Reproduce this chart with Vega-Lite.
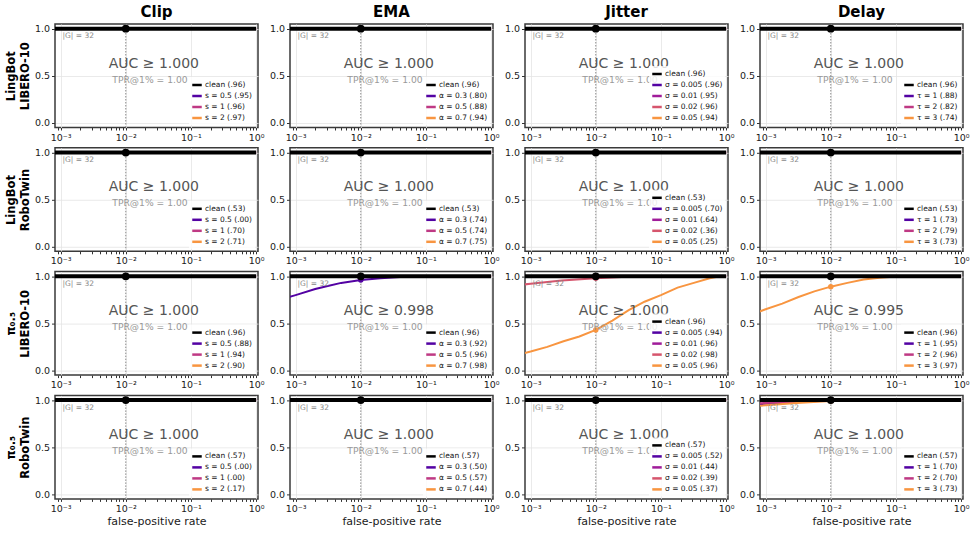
{
  "$schema": "https://vega.github.io/schema/vega-lite/v6.json",
  "background": "white",
  "padding": {"left": 4, "top": 3, "right": 6, "bottom": 6},
  "columns": 4,
  "spacing": {"row": 19.8, "column": 32},
  "bounds": "flush",
  "datasets": {
    "roc": [
      {"panel":"1-clip","curve":"clean (.96)","fpr":0.0005,"tpr":1},{"panel":"1-clip","curve":"clean (.96)","fpr":0.01,"tpr":1},{"panel":"1-clip","curve":"clean (.96)","fpr":1,"tpr":1},
      {"panel":"1-clip","curve":"s = 0.5 (.95)","fpr":0.0005,"tpr":1},{"panel":"1-clip","curve":"s = 0.5 (.95)","fpr":0.01,"tpr":1},{"panel":"1-clip","curve":"s = 0.5 (.95)","fpr":1,"tpr":1},
      {"panel":"1-clip","curve":"s = 1 (.96)","fpr":0.0005,"tpr":1},{"panel":"1-clip","curve":"s = 1 (.96)","fpr":0.01,"tpr":1},{"panel":"1-clip","curve":"s = 1 (.96)","fpr":1,"tpr":1},
      {"panel":"1-clip","curve":"s = 2 (.97)","fpr":0.0005,"tpr":1},{"panel":"1-clip","curve":"s = 2 (.97)","fpr":0.01,"tpr":1},{"panel":"1-clip","curve":"s = 2 (.97)","fpr":1,"tpr":1},

      {"panel":"1-ema","curve":"clean (.96)","fpr":0.0005,"tpr":1},{"panel":"1-ema","curve":"clean (.96)","fpr":0.01,"tpr":1},{"panel":"1-ema","curve":"clean (.96)","fpr":1,"tpr":1},
      {"panel":"1-ema","curve":"α = 0.3 (.80)","fpr":0.0005,"tpr":1},{"panel":"1-ema","curve":"α = 0.3 (.80)","fpr":0.01,"tpr":1},{"panel":"1-ema","curve":"α = 0.3 (.80)","fpr":1,"tpr":1},
      {"panel":"1-ema","curve":"α = 0.5 (.88)","fpr":0.0005,"tpr":1},{"panel":"1-ema","curve":"α = 0.5 (.88)","fpr":0.01,"tpr":1},{"panel":"1-ema","curve":"α = 0.5 (.88)","fpr":1,"tpr":1},
      {"panel":"1-ema","curve":"α = 0.7 (.94)","fpr":0.0005,"tpr":1},{"panel":"1-ema","curve":"α = 0.7 (.94)","fpr":0.01,"tpr":1},{"panel":"1-ema","curve":"α = 0.7 (.94)","fpr":1,"tpr":1},

      {"panel":"1-jitter","curve":"clean (.96)","fpr":0.0005,"tpr":1},{"panel":"1-jitter","curve":"clean (.96)","fpr":0.01,"tpr":1},{"panel":"1-jitter","curve":"clean (.96)","fpr":1,"tpr":1},
      {"panel":"1-jitter","curve":"σ = 0.005 (.96)","fpr":0.0005,"tpr":1},{"panel":"1-jitter","curve":"σ = 0.005 (.96)","fpr":0.01,"tpr":1},{"panel":"1-jitter","curve":"σ = 0.005 (.96)","fpr":1,"tpr":1},
      {"panel":"1-jitter","curve":"σ = 0.01 (.95)","fpr":0.0005,"tpr":1},{"panel":"1-jitter","curve":"σ = 0.01 (.95)","fpr":0.01,"tpr":1},{"panel":"1-jitter","curve":"σ = 0.01 (.95)","fpr":1,"tpr":1},
      {"panel":"1-jitter","curve":"σ = 0.02 (.96)","fpr":0.0005,"tpr":1},{"panel":"1-jitter","curve":"σ = 0.02 (.96)","fpr":0.01,"tpr":1},{"panel":"1-jitter","curve":"σ = 0.02 (.96)","fpr":1,"tpr":1},
      {"panel":"1-jitter","curve":"σ = 0.05 (.94)","fpr":0.0005,"tpr":1},{"panel":"1-jitter","curve":"σ = 0.05 (.94)","fpr":0.01,"tpr":1},{"panel":"1-jitter","curve":"σ = 0.05 (.94)","fpr":1,"tpr":1},

      {"panel":"1-delay","curve":"clean (.96)","fpr":0.0005,"tpr":1},{"panel":"1-delay","curve":"clean (.96)","fpr":0.01,"tpr":1},{"panel":"1-delay","curve":"clean (.96)","fpr":1,"tpr":1},
      {"panel":"1-delay","curve":"τ = 1 (.88)","fpr":0.0005,"tpr":1},{"panel":"1-delay","curve":"τ = 1 (.88)","fpr":0.01,"tpr":1},{"panel":"1-delay","curve":"τ = 1 (.88)","fpr":1,"tpr":1},
      {"panel":"1-delay","curve":"τ = 2 (.82)","fpr":0.0005,"tpr":1},{"panel":"1-delay","curve":"τ = 2 (.82)","fpr":0.01,"tpr":1},{"panel":"1-delay","curve":"τ = 2 (.82)","fpr":1,"tpr":1},
      {"panel":"1-delay","curve":"τ = 3 (.74)","fpr":0.0005,"tpr":1},{"panel":"1-delay","curve":"τ = 3 (.74)","fpr":0.01,"tpr":1},{"panel":"1-delay","curve":"τ = 3 (.74)","fpr":1,"tpr":1},

      {"panel":"2-clip","curve":"clean (.53)","fpr":0.0005,"tpr":1},{"panel":"2-clip","curve":"clean (.53)","fpr":0.01,"tpr":1},{"panel":"2-clip","curve":"clean (.53)","fpr":1,"tpr":1},
      {"panel":"2-clip","curve":"s = 0.5 (.00)","fpr":0.0005,"tpr":1},{"panel":"2-clip","curve":"s = 0.5 (.00)","fpr":0.01,"tpr":1},{"panel":"2-clip","curve":"s = 0.5 (.00)","fpr":1,"tpr":1},
      {"panel":"2-clip","curve":"s = 1 (.70)","fpr":0.0005,"tpr":1},{"panel":"2-clip","curve":"s = 1 (.70)","fpr":0.01,"tpr":1},{"panel":"2-clip","curve":"s = 1 (.70)","fpr":1,"tpr":1},
      {"panel":"2-clip","curve":"s = 2 (.71)","fpr":0.0005,"tpr":1},{"panel":"2-clip","curve":"s = 2 (.71)","fpr":0.01,"tpr":1},{"panel":"2-clip","curve":"s = 2 (.71)","fpr":1,"tpr":1},

      {"panel":"2-ema","curve":"clean (.53)","fpr":0.0005,"tpr":1},{"panel":"2-ema","curve":"clean (.53)","fpr":0.01,"tpr":1},{"panel":"2-ema","curve":"clean (.53)","fpr":1,"tpr":1},
      {"panel":"2-ema","curve":"α = 0.3 (.74)","fpr":0.0005,"tpr":1},{"panel":"2-ema","curve":"α = 0.3 (.74)","fpr":0.01,"tpr":1},{"panel":"2-ema","curve":"α = 0.3 (.74)","fpr":1,"tpr":1},
      {"panel":"2-ema","curve":"α = 0.5 (.74)","fpr":0.0005,"tpr":1},{"panel":"2-ema","curve":"α = 0.5 (.74)","fpr":0.01,"tpr":1},{"panel":"2-ema","curve":"α = 0.5 (.74)","fpr":1,"tpr":1},
      {"panel":"2-ema","curve":"α = 0.7 (.75)","fpr":0.0005,"tpr":1},{"panel":"2-ema","curve":"α = 0.7 (.75)","fpr":0.01,"tpr":1},{"panel":"2-ema","curve":"α = 0.7 (.75)","fpr":1,"tpr":1},

      {"panel":"2-jitter","curve":"clean (.53)","fpr":0.0005,"tpr":1},{"panel":"2-jitter","curve":"clean (.53)","fpr":0.01,"tpr":1},{"panel":"2-jitter","curve":"clean (.53)","fpr":1,"tpr":1},
      {"panel":"2-jitter","curve":"σ = 0.005 (.70)","fpr":0.0005,"tpr":1},{"panel":"2-jitter","curve":"σ = 0.005 (.70)","fpr":0.01,"tpr":1},{"panel":"2-jitter","curve":"σ = 0.005 (.70)","fpr":1,"tpr":1},
      {"panel":"2-jitter","curve":"σ = 0.01 (.64)","fpr":0.0005,"tpr":1},{"panel":"2-jitter","curve":"σ = 0.01 (.64)","fpr":0.01,"tpr":1},{"panel":"2-jitter","curve":"σ = 0.01 (.64)","fpr":1,"tpr":1},
      {"panel":"2-jitter","curve":"σ = 0.02 (.36)","fpr":0.0005,"tpr":1},{"panel":"2-jitter","curve":"σ = 0.02 (.36)","fpr":0.01,"tpr":1},{"panel":"2-jitter","curve":"σ = 0.02 (.36)","fpr":1,"tpr":1},
      {"panel":"2-jitter","curve":"σ = 0.05 (.25)","fpr":0.0005,"tpr":1},{"panel":"2-jitter","curve":"σ = 0.05 (.25)","fpr":0.01,"tpr":1},{"panel":"2-jitter","curve":"σ = 0.05 (.25)","fpr":1,"tpr":1},

      {"panel":"2-delay","curve":"clean (.53)","fpr":0.0005,"tpr":1},{"panel":"2-delay","curve":"clean (.53)","fpr":0.01,"tpr":1},{"panel":"2-delay","curve":"clean (.53)","fpr":1,"tpr":1},
      {"panel":"2-delay","curve":"τ = 1 (.73)","fpr":0.0005,"tpr":1},{"panel":"2-delay","curve":"τ = 1 (.73)","fpr":0.01,"tpr":1},{"panel":"2-delay","curve":"τ = 1 (.73)","fpr":1,"tpr":1},
      {"panel":"2-delay","curve":"τ = 2 (.79)","fpr":0.0005,"tpr":1},{"panel":"2-delay","curve":"τ = 2 (.79)","fpr":0.01,"tpr":1},{"panel":"2-delay","curve":"τ = 2 (.79)","fpr":1,"tpr":1},
      {"panel":"2-delay","curve":"τ = 3 (.73)","fpr":0.0005,"tpr":1},{"panel":"2-delay","curve":"τ = 3 (.73)","fpr":0.01,"tpr":1},{"panel":"2-delay","curve":"τ = 3 (.73)","fpr":1,"tpr":1},

      {"panel":"3-clip","curve":"clean (.96)","fpr":0.0005,"tpr":1},{"panel":"3-clip","curve":"clean (.96)","fpr":0.01,"tpr":1},{"panel":"3-clip","curve":"clean (.96)","fpr":1,"tpr":1},
      {"panel":"3-clip","curve":"s = 0.5 (.88)","fpr":0.0005,"tpr":1},{"panel":"3-clip","curve":"s = 0.5 (.88)","fpr":0.01,"tpr":1},{"panel":"3-clip","curve":"s = 0.5 (.88)","fpr":1,"tpr":1},
      {"panel":"3-clip","curve":"s = 1 (.94)","fpr":0.0005,"tpr":1},{"panel":"3-clip","curve":"s = 1 (.94)","fpr":0.01,"tpr":1},{"panel":"3-clip","curve":"s = 1 (.94)","fpr":1,"tpr":1},
      {"panel":"3-clip","curve":"s = 2 (.90)","fpr":0.0005,"tpr":1},{"panel":"3-clip","curve":"s = 2 (.90)","fpr":0.01,"tpr":1},{"panel":"3-clip","curve":"s = 2 (.90)","fpr":1,"tpr":1},

      {"panel":"3-ema","curve":"clean (.96)","fpr":0.0005,"tpr":1},{"panel":"3-ema","curve":"clean (.96)","fpr":0.01,"tpr":1},{"panel":"3-ema","curve":"clean (.96)","fpr":1,"tpr":1},
      {"panel":"3-ema","curve":"α = 0.3 (.92)","fpr":0.0005,"tpr":0.74},{"panel":"3-ema","curve":"α = 0.3 (.92)","fpr":0.001,"tpr":0.8},{"panel":"3-ema","curve":"α = 0.3 (.92)","fpr":0.002,"tpr":0.865},{"panel":"3-ema","curve":"α = 0.3 (.92)","fpr":0.003,"tpr":0.895},{"panel":"3-ema","curve":"α = 0.3 (.92)","fpr":0.005,"tpr":0.93},{"panel":"3-ema","curve":"α = 0.3 (.92)","fpr":0.01,"tpr":0.96},{"panel":"3-ema","curve":"α = 0.3 (.92)","fpr":0.02,"tpr":0.98},{"panel":"3-ema","curve":"α = 0.3 (.92)","fpr":0.04,"tpr":0.993},{"panel":"3-ema","curve":"α = 0.3 (.92)","fpr":0.07,"tpr":1},{"panel":"3-ema","curve":"α = 0.3 (.92)","fpr":1,"tpr":1},
      {"panel":"3-ema","curve":"α = 0.5 (.96)","fpr":0.0005,"tpr":1},{"panel":"3-ema","curve":"α = 0.5 (.96)","fpr":0.01,"tpr":1},{"panel":"3-ema","curve":"α = 0.5 (.96)","fpr":1,"tpr":1},
      {"panel":"3-ema","curve":"α = 0.7 (.98)","fpr":0.0005,"tpr":1},{"panel":"3-ema","curve":"α = 0.7 (.98)","fpr":0.01,"tpr":1},{"panel":"3-ema","curve":"α = 0.7 (.98)","fpr":1,"tpr":1},

      {"panel":"3-jitter","curve":"clean (.96)","fpr":0.0005,"tpr":1},{"panel":"3-jitter","curve":"clean (.96)","fpr":0.01,"tpr":1},{"panel":"3-jitter","curve":"clean (.96)","fpr":1,"tpr":1},
      {"panel":"3-jitter","curve":"σ = 0.005 (.94)","fpr":0.0005,"tpr":1},{"panel":"3-jitter","curve":"σ = 0.005 (.94)","fpr":0.01,"tpr":1},{"panel":"3-jitter","curve":"σ = 0.005 (.94)","fpr":1,"tpr":1},
      {"panel":"3-jitter","curve":"σ = 0.01 (.96)","fpr":0.0005,"tpr":1},{"panel":"3-jitter","curve":"σ = 0.01 (.96)","fpr":0.01,"tpr":1},{"panel":"3-jitter","curve":"σ = 0.01 (.96)","fpr":1,"tpr":1},
      {"panel":"3-jitter","curve":"σ = 0.02 (.98)","fpr":0.0005,"tpr":0.9},{"panel":"3-jitter","curve":"σ = 0.02 (.98)","fpr":0.001,"tpr":0.92},{"panel":"3-jitter","curve":"σ = 0.02 (.98)","fpr":0.003,"tpr":0.955},{"panel":"3-jitter","curve":"σ = 0.02 (.98)","fpr":0.01,"tpr":0.98},{"panel":"3-jitter","curve":"σ = 0.02 (.98)","fpr":0.03,"tpr":0.995},{"panel":"3-jitter","curve":"σ = 0.02 (.98)","fpr":0.06,"tpr":1},{"panel":"3-jitter","curve":"σ = 0.02 (.98)","fpr":1,"tpr":1},
      {"panel":"3-jitter","curve":"σ = 0.05 (.96)","fpr":0.0005,"tpr":0.15},{"panel":"3-jitter","curve":"σ = 0.05 (.96)","fpr":0.001,"tpr":0.2},{"panel":"3-jitter","curve":"σ = 0.05 (.96)","fpr":0.0018,"tpr":0.25},{"panel":"3-jitter","curve":"σ = 0.05 (.96)","fpr":0.0032,"tpr":0.31},{"panel":"3-jitter","curve":"σ = 0.05 (.96)","fpr":0.0056,"tpr":0.36},{"panel":"3-jitter","curve":"σ = 0.05 (.96)","fpr":0.01,"tpr":0.43},{"panel":"3-jitter","curve":"σ = 0.05 (.96)","fpr":0.018,"tpr":0.53},{"panel":"3-jitter","curve":"σ = 0.05 (.96)","fpr":0.032,"tpr":0.64},{"panel":"3-jitter","curve":"σ = 0.05 (.96)","fpr":0.056,"tpr":0.73},{"panel":"3-jitter","curve":"σ = 0.05 (.96)","fpr":0.1,"tpr":0.8},{"panel":"3-jitter","curve":"σ = 0.05 (.96)","fpr":0.18,"tpr":0.88},{"panel":"3-jitter","curve":"σ = 0.05 (.96)","fpr":0.32,"tpr":0.93},{"panel":"3-jitter","curve":"σ = 0.05 (.96)","fpr":0.56,"tpr":0.98},{"panel":"3-jitter","curve":"σ = 0.05 (.96)","fpr":0.8,"tpr":1},{"panel":"3-jitter","curve":"σ = 0.05 (.96)","fpr":1,"tpr":1},

      {"panel":"3-delay","curve":"clean (.96)","fpr":0.0005,"tpr":1},{"panel":"3-delay","curve":"clean (.96)","fpr":0.01,"tpr":1},{"panel":"3-delay","curve":"clean (.96)","fpr":1,"tpr":1},
      {"panel":"3-delay","curve":"τ = 1 (.95)","fpr":0.0005,"tpr":1},{"panel":"3-delay","curve":"τ = 1 (.95)","fpr":0.01,"tpr":1},{"panel":"3-delay","curve":"τ = 1 (.95)","fpr":1,"tpr":1},
      {"panel":"3-delay","curve":"τ = 2 (.96)","fpr":0.0005,"tpr":1},{"panel":"3-delay","curve":"τ = 2 (.96)","fpr":0.01,"tpr":1},{"panel":"3-delay","curve":"τ = 2 (.96)","fpr":1,"tpr":1},
      {"panel":"3-delay","curve":"τ = 3 (.97)","fpr":0.0005,"tpr":0.57},{"panel":"3-delay","curve":"τ = 3 (.97)","fpr":0.001,"tpr":0.65},{"panel":"3-delay","curve":"τ = 3 (.97)","fpr":0.0018,"tpr":0.71},{"panel":"3-delay","curve":"τ = 3 (.97)","fpr":0.0032,"tpr":0.78},{"panel":"3-delay","curve":"τ = 3 (.97)","fpr":0.0056,"tpr":0.84},{"panel":"3-delay","curve":"τ = 3 (.97)","fpr":0.01,"tpr":0.89},{"panel":"3-delay","curve":"τ = 3 (.97)","fpr":0.018,"tpr":0.93},{"panel":"3-delay","curve":"τ = 3 (.97)","fpr":0.032,"tpr":0.965},{"panel":"3-delay","curve":"τ = 3 (.97)","fpr":0.056,"tpr":0.985},{"panel":"3-delay","curve":"τ = 3 (.97)","fpr":0.1,"tpr":0.997},{"panel":"3-delay","curve":"τ = 3 (.97)","fpr":0.16,"tpr":1},{"panel":"3-delay","curve":"τ = 3 (.97)","fpr":1,"tpr":1},

      {"panel":"4-clip","curve":"clean (.57)","fpr":0.0005,"tpr":1},{"panel":"4-clip","curve":"clean (.57)","fpr":0.01,"tpr":1},{"panel":"4-clip","curve":"clean (.57)","fpr":1,"tpr":1},
      {"panel":"4-clip","curve":"s = 0.5 (.00)","fpr":0.0005,"tpr":1},{"panel":"4-clip","curve":"s = 0.5 (.00)","fpr":0.01,"tpr":1},{"panel":"4-clip","curve":"s = 0.5 (.00)","fpr":1,"tpr":1},
      {"panel":"4-clip","curve":"s = 1 (.00)","fpr":0.0005,"tpr":1},{"panel":"4-clip","curve":"s = 1 (.00)","fpr":0.01,"tpr":1},{"panel":"4-clip","curve":"s = 1 (.00)","fpr":1,"tpr":1},
      {"panel":"4-clip","curve":"s = 2 (.17)","fpr":0.0005,"tpr":1},{"panel":"4-clip","curve":"s = 2 (.17)","fpr":0.01,"tpr":1},{"panel":"4-clip","curve":"s = 2 (.17)","fpr":1,"tpr":1},

      {"panel":"4-ema","curve":"clean (.57)","fpr":0.0005,"tpr":1},{"panel":"4-ema","curve":"clean (.57)","fpr":0.01,"tpr":1},{"panel":"4-ema","curve":"clean (.57)","fpr":1,"tpr":1},
      {"panel":"4-ema","curve":"α = 0.3 (.50)","fpr":0.0005,"tpr":1},{"panel":"4-ema","curve":"α = 0.3 (.50)","fpr":0.01,"tpr":1},{"panel":"4-ema","curve":"α = 0.3 (.50)","fpr":1,"tpr":1},
      {"panel":"4-ema","curve":"α = 0.5 (.57)","fpr":0.0005,"tpr":1},{"panel":"4-ema","curve":"α = 0.5 (.57)","fpr":0.01,"tpr":1},{"panel":"4-ema","curve":"α = 0.5 (.57)","fpr":1,"tpr":1},
      {"panel":"4-ema","curve":"α = 0.7 (.44)","fpr":0.0005,"tpr":1},{"panel":"4-ema","curve":"α = 0.7 (.44)","fpr":0.01,"tpr":1},{"panel":"4-ema","curve":"α = 0.7 (.44)","fpr":1,"tpr":1},

      {"panel":"4-jitter","curve":"clean (.57)","fpr":0.0005,"tpr":1},{"panel":"4-jitter","curve":"clean (.57)","fpr":0.01,"tpr":1},{"panel":"4-jitter","curve":"clean (.57)","fpr":1,"tpr":1},
      {"panel":"4-jitter","curve":"σ = 0.005 (.52)","fpr":0.0005,"tpr":1},{"panel":"4-jitter","curve":"σ = 0.005 (.52)","fpr":0.01,"tpr":1},{"panel":"4-jitter","curve":"σ = 0.005 (.52)","fpr":1,"tpr":1},
      {"panel":"4-jitter","curve":"σ = 0.01 (.44)","fpr":0.0005,"tpr":1},{"panel":"4-jitter","curve":"σ = 0.01 (.44)","fpr":0.01,"tpr":1},{"panel":"4-jitter","curve":"σ = 0.01 (.44)","fpr":1,"tpr":1},
      {"panel":"4-jitter","curve":"σ = 0.02 (.39)","fpr":0.0005,"tpr":1},{"panel":"4-jitter","curve":"σ = 0.02 (.39)","fpr":0.01,"tpr":1},{"panel":"4-jitter","curve":"σ = 0.02 (.39)","fpr":1,"tpr":1},
      {"panel":"4-jitter","curve":"σ = 0.05 (.37)","fpr":0.0005,"tpr":1},{"panel":"4-jitter","curve":"σ = 0.05 (.37)","fpr":0.01,"tpr":1},{"panel":"4-jitter","curve":"σ = 0.05 (.37)","fpr":1,"tpr":1},

      {"panel":"4-delay","curve":"clean (.57)","fpr":0.0005,"tpr":1},{"panel":"4-delay","curve":"clean (.57)","fpr":0.01,"tpr":1},{"panel":"4-delay","curve":"clean (.57)","fpr":1,"tpr":1},
      {"panel":"4-delay","curve":"τ = 1 (.70)","fpr":0.0005,"tpr":0.95},{"panel":"4-delay","curve":"τ = 1 (.70)","fpr":0.001,"tpr":0.96},{"panel":"4-delay","curve":"τ = 1 (.70)","fpr":0.003,"tpr":0.98},{"panel":"4-delay","curve":"τ = 1 (.70)","fpr":0.01,"tpr":0.995},{"panel":"4-delay","curve":"τ = 1 (.70)","fpr":0.02,"tpr":1},{"panel":"4-delay","curve":"τ = 1 (.70)","fpr":1,"tpr":1},
      {"panel":"4-delay","curve":"τ = 2 (.70)","fpr":0.0005,"tpr":0.96},{"panel":"4-delay","curve":"τ = 2 (.70)","fpr":0.001,"tpr":0.97},{"panel":"4-delay","curve":"τ = 2 (.70)","fpr":0.01,"tpr":0.998},{"panel":"4-delay","curve":"τ = 2 (.70)","fpr":0.02,"tpr":1},{"panel":"4-delay","curve":"τ = 2 (.70)","fpr":1,"tpr":1},
      {"panel":"4-delay","curve":"τ = 3 (.73)","fpr":0.0005,"tpr":0.93},{"panel":"4-delay","curve":"τ = 3 (.73)","fpr":0.001,"tpr":0.945},{"panel":"4-delay","curve":"τ = 3 (.73)","fpr":0.003,"tpr":0.97},{"panel":"4-delay","curve":"τ = 3 (.73)","fpr":0.01,"tpr":0.99},{"panel":"4-delay","curve":"τ = 3 (.73)","fpr":0.02,"tpr":1},{"panel":"4-delay","curve":"τ = 3 (.73)","fpr":1,"tpr":1}
    ]
  },
  "concat": [
    {"width":203,"height":103.5,"title":"Clip","layer":[
      {"data":{"values":[{}]},"mark":{"type":"rule","color":"#8c8c8c","strokeWidth":1,"strokeDash":[1.5,1.5]},"encoding":{"x":{"datum":0.01,"type":"quantitative"}}},
      {"data":{"name":"roc"},"transform":[{"filter":"datum.panel == '1-clip'"}],
       "encoding":{
        "x":{"field":"fpr","type":"quantitative","scale":{"type":"log","domain":[0.00082,1.07],"nice":false},"axis":{"title":null,"values":[0.0009,0.001,0.002,0.003,0.004,0.005,0.006,0.007,0.008,0.009,0.01,0.02,0.03,0.04,0.05,0.06,0.07,0.08,0.09,0.1,0.2,0.3,0.4,0.5,0.6,0.7,0.8,0.9,1],"labelExpr":"datum.value == 0.001 ? '10⁻³' : datum.value == 0.01 ? '10⁻²' : datum.value == 0.1 ? '10⁻¹' : datum.value == 1 ? '10⁰' : ''","labelOverlap":false,"gridOpacity":{"condition":{"test":"datum.value == 0.001 || datum.value == 0.01 || datum.value == 0.1 || datum.value == 1","value":1},"value":0}}},
        "y":{"field":"tpr","type":"quantitative","scale":{"domain":[-0.05,1.05],"nice":false,"zero":false},"axis":{"title":["LingBot","LIBERO-10"],"values":[0,0.5,1],"format":".1f"}},
        "color":{"field":"curve","type":"nominal","title":null,"scale":{"domain":["clean (.96)","s = 0.5 (.95)","s = 1 (.96)","s = 2 (.97)"],"range":["#000000","#5302a3","#bf3984","#f89540"]}}},
       "layer":[
        {"transform":[{"filter":"indexof(datum.curve, 'clean') != 0"}],"mark":{"type":"line","strokeWidth":2,"clip":true}},
        {"transform":[{"filter":"indexof(datum.curve, 'clean') == 0"}],"mark":{"type":"line","strokeWidth":4,"clip":true}},
        {"transform":[{"filter":"indexof(datum.curve, 'clean') != 0 && datum.fpr == 0.01"}],"mark":{"type":"point","filled":true,"size":30,"opacity":1}},
        {"transform":[{"filter":"indexof(datum.curve, 'clean') == 0 && datum.fpr == 0.01"}],"mark":{"type":"point","filled":true,"size":60,"opacity":1}}
       ]},
      {"data":{"values":[{}]},"layer":[
        {"mark":{"type":"text","fontSize":7.5,"color":"#888888","align":"left","baseline":"middle","text":"|G| = 32"},"encoding":{"x":{"datum":0.00107,"type":"quantitative"},"y":{"datum":0.92,"type":"quantitative"}}},
        {"mark":{"type":"text","fontSize":14,"color":"#555555","baseline":"middle","text":"AUC ≥ 1.000"},"encoding":{"x":{"datum":0.027,"type":"quantitative"},"y":{"datum":0.63,"type":"quantitative"}}},
        {"mark":{"type":"text","fontSize":9.2,"color":"#999999","baseline":"middle","text":"TPR@1% = 1.00"},"encoding":{"x":{"datum":0.0235,"type":"quantitative"},"y":{"datum":0.46,"type":"quantitative"}}}
      ]}
    ]},
    {"width":203,"height":103.5,"title":"EMA","layer":[
      {"data":{"values":[{}]},"mark":{"type":"rule","color":"#8c8c8c","strokeWidth":1,"strokeDash":[1.5,1.5]},"encoding":{"x":{"datum":0.01,"type":"quantitative"}}},
      {"data":{"name":"roc"},"transform":[{"filter":"datum.panel == '1-ema'"}],
       "encoding":{
        "x":{"field":"fpr","type":"quantitative","scale":{"type":"log","domain":[0.00082,1.07],"nice":false},"axis":{"title":null,"values":[0.0009,0.001,0.002,0.003,0.004,0.005,0.006,0.007,0.008,0.009,0.01,0.02,0.03,0.04,0.05,0.06,0.07,0.08,0.09,0.1,0.2,0.3,0.4,0.5,0.6,0.7,0.8,0.9,1],"labelExpr":"datum.value == 0.001 ? '10⁻³' : datum.value == 0.01 ? '10⁻²' : datum.value == 0.1 ? '10⁻¹' : datum.value == 1 ? '10⁰' : ''","labelOverlap":false,"gridOpacity":{"condition":{"test":"datum.value == 0.001 || datum.value == 0.01 || datum.value == 0.1 || datum.value == 1","value":1},"value":0}}},
        "y":{"field":"tpr","type":"quantitative","scale":{"domain":[-0.05,1.05],"nice":false,"zero":false},"axis":{"title":null,"values":[0,0.5,1],"format":".1f"}},
        "color":{"field":"curve","type":"nominal","title":null,"scale":{"domain":["clean (.96)","α = 0.3 (.80)","α = 0.5 (.88)","α = 0.7 (.94)"],"range":["#000000","#5302a3","#bf3984","#f89540"]}}},
       "layer":[
        {"transform":[{"filter":"indexof(datum.curve, 'clean') != 0"}],"mark":{"type":"line","strokeWidth":2,"clip":true}},
        {"transform":[{"filter":"indexof(datum.curve, 'clean') == 0"}],"mark":{"type":"line","strokeWidth":4,"clip":true}},
        {"transform":[{"filter":"indexof(datum.curve, 'clean') != 0 && datum.fpr == 0.01"}],"mark":{"type":"point","filled":true,"size":30,"opacity":1}},
        {"transform":[{"filter":"indexof(datum.curve, 'clean') == 0 && datum.fpr == 0.01"}],"mark":{"type":"point","filled":true,"size":60,"opacity":1}}
       ]},
      {"data":{"values":[{}]},"layer":[
        {"mark":{"type":"text","fontSize":7.5,"color":"#888888","align":"left","baseline":"middle","text":"|G| = 32"},"encoding":{"x":{"datum":0.00107,"type":"quantitative"},"y":{"datum":0.92,"type":"quantitative"}}},
        {"mark":{"type":"text","fontSize":14,"color":"#555555","baseline":"middle","text":"AUC ≥ 1.000"},"encoding":{"x":{"datum":0.027,"type":"quantitative"},"y":{"datum":0.63,"type":"quantitative"}}},
        {"mark":{"type":"text","fontSize":9.2,"color":"#999999","baseline":"middle","text":"TPR@1% = 1.00"},"encoding":{"x":{"datum":0.0235,"type":"quantitative"},"y":{"datum":0.46,"type":"quantitative"}}}
      ]}
    ]},
    {"width":203,"height":103.5,"title":"Jitter","layer":[
      {"data":{"values":[{}]},"mark":{"type":"rule","color":"#8c8c8c","strokeWidth":1,"strokeDash":[1.5,1.5]},"encoding":{"x":{"datum":0.01,"type":"quantitative"}}},
      {"data":{"name":"roc"},"transform":[{"filter":"datum.panel == '1-jitter'"}],
       "encoding":{
        "x":{"field":"fpr","type":"quantitative","scale":{"type":"log","domain":[0.00082,1.07],"nice":false},"axis":{"title":null,"values":[0.0009,0.001,0.002,0.003,0.004,0.005,0.006,0.007,0.008,0.009,0.01,0.02,0.03,0.04,0.05,0.06,0.07,0.08,0.09,0.1,0.2,0.3,0.4,0.5,0.6,0.7,0.8,0.9,1],"labelExpr":"datum.value == 0.001 ? '10⁻³' : datum.value == 0.01 ? '10⁻²' : datum.value == 0.1 ? '10⁻¹' : datum.value == 1 ? '10⁰' : ''","labelOverlap":false,"gridOpacity":{"condition":{"test":"datum.value == 0.001 || datum.value == 0.01 || datum.value == 0.1 || datum.value == 1","value":1},"value":0}}},
        "y":{"field":"tpr","type":"quantitative","scale":{"domain":[-0.05,1.05],"nice":false,"zero":false},"axis":{"title":null,"values":[0,0.5,1],"format":".1f"}},
        "color":{"field":"curve","type":"nominal","title":null,"scale":{"domain":["clean (.96)","σ = 0.005 (.96)","σ = 0.01 (.95)","σ = 0.02 (.96)","σ = 0.05 (.94)"],"range":["#000000","#5302a3","#a01c9a","#d6556d","#f89540"]}}},
       "layer":[
        {"transform":[{"filter":"indexof(datum.curve, 'clean') != 0"}],"mark":{"type":"line","strokeWidth":2,"clip":true}},
        {"transform":[{"filter":"indexof(datum.curve, 'clean') == 0"}],"mark":{"type":"line","strokeWidth":4,"clip":true}},
        {"transform":[{"filter":"indexof(datum.curve, 'clean') != 0 && datum.fpr == 0.01"}],"mark":{"type":"point","filled":true,"size":30,"opacity":1}},
        {"transform":[{"filter":"indexof(datum.curve, 'clean') == 0 && datum.fpr == 0.01"}],"mark":{"type":"point","filled":true,"size":60,"opacity":1}}
       ]},
      {"data":{"values":[{}]},"layer":[
        {"mark":{"type":"text","fontSize":7.5,"color":"#888888","align":"left","baseline":"middle","text":"|G| = 32"},"encoding":{"x":{"datum":0.00107,"type":"quantitative"},"y":{"datum":0.92,"type":"quantitative"}}},
        {"mark":{"type":"text","fontSize":14,"color":"#555555","baseline":"middle","text":"AUC ≥ 1.000"},"encoding":{"x":{"datum":0.027,"type":"quantitative"},"y":{"datum":0.63,"type":"quantitative"}}},
        {"mark":{"type":"text","fontSize":9.2,"color":"#999999","baseline":"middle","text":"TPR@1% = 1.00"},"encoding":{"x":{"datum":0.0235,"type":"quantitative"},"y":{"datum":0.46,"type":"quantitative"}}}
      ]}
    ]},
    {"width":203,"height":103.5,"title":"Delay","layer":[
      {"data":{"values":[{}]},"mark":{"type":"rule","color":"#8c8c8c","strokeWidth":1,"strokeDash":[1.5,1.5]},"encoding":{"x":{"datum":0.01,"type":"quantitative"}}},
      {"data":{"name":"roc"},"transform":[{"filter":"datum.panel == '1-delay'"}],
       "encoding":{
        "x":{"field":"fpr","type":"quantitative","scale":{"type":"log","domain":[0.00082,1.07],"nice":false},"axis":{"title":null,"values":[0.0009,0.001,0.002,0.003,0.004,0.005,0.006,0.007,0.008,0.009,0.01,0.02,0.03,0.04,0.05,0.06,0.07,0.08,0.09,0.1,0.2,0.3,0.4,0.5,0.6,0.7,0.8,0.9,1],"labelExpr":"datum.value == 0.001 ? '10⁻³' : datum.value == 0.01 ? '10⁻²' : datum.value == 0.1 ? '10⁻¹' : datum.value == 1 ? '10⁰' : ''","labelOverlap":false,"gridOpacity":{"condition":{"test":"datum.value == 0.001 || datum.value == 0.01 || datum.value == 0.1 || datum.value == 1","value":1},"value":0}}},
        "y":{"field":"tpr","type":"quantitative","scale":{"domain":[-0.05,1.05],"nice":false,"zero":false},"axis":{"title":null,"values":[0,0.5,1],"format":".1f"}},
        "color":{"field":"curve","type":"nominal","title":null,"scale":{"domain":["clean (.96)","τ = 1 (.88)","τ = 2 (.82)","τ = 3 (.74)"],"range":["#000000","#5302a3","#bf3984","#f89540"]}}},
       "layer":[
        {"transform":[{"filter":"indexof(datum.curve, 'clean') != 0"}],"mark":{"type":"line","strokeWidth":2,"clip":true}},
        {"transform":[{"filter":"indexof(datum.curve, 'clean') == 0"}],"mark":{"type":"line","strokeWidth":4,"clip":true}},
        {"transform":[{"filter":"indexof(datum.curve, 'clean') != 0 && datum.fpr == 0.01"}],"mark":{"type":"point","filled":true,"size":30,"opacity":1}},
        {"transform":[{"filter":"indexof(datum.curve, 'clean') == 0 && datum.fpr == 0.01"}],"mark":{"type":"point","filled":true,"size":60,"opacity":1}}
       ]},
      {"data":{"values":[{}]},"layer":[
        {"mark":{"type":"text","fontSize":7.5,"color":"#888888","align":"left","baseline":"middle","text":"|G| = 32"},"encoding":{"x":{"datum":0.00107,"type":"quantitative"},"y":{"datum":0.92,"type":"quantitative"}}},
        {"mark":{"type":"text","fontSize":14,"color":"#555555","baseline":"middle","text":"AUC ≥ 1.000"},"encoding":{"x":{"datum":0.027,"type":"quantitative"},"y":{"datum":0.63,"type":"quantitative"}}},
        {"mark":{"type":"text","fontSize":9.2,"color":"#999999","baseline":"middle","text":"TPR@1% = 1.00"},"encoding":{"x":{"datum":0.0235,"type":"quantitative"},"y":{"datum":0.46,"type":"quantitative"}}}
      ]}
    ]},

    {"width":203,"height":103.5,"layer":[
      {"data":{"values":[{}]},"mark":{"type":"rule","color":"#8c8c8c","strokeWidth":1,"strokeDash":[1.5,1.5]},"encoding":{"x":{"datum":0.01,"type":"quantitative"}}},
      {"data":{"name":"roc"},"transform":[{"filter":"datum.panel == '2-clip'"}],
       "encoding":{
        "x":{"field":"fpr","type":"quantitative","scale":{"type":"log","domain":[0.00082,1.07],"nice":false},"axis":{"title":null,"values":[0.0009,0.001,0.002,0.003,0.004,0.005,0.006,0.007,0.008,0.009,0.01,0.02,0.03,0.04,0.05,0.06,0.07,0.08,0.09,0.1,0.2,0.3,0.4,0.5,0.6,0.7,0.8,0.9,1],"labelExpr":"datum.value == 0.001 ? '10⁻³' : datum.value == 0.01 ? '10⁻²' : datum.value == 0.1 ? '10⁻¹' : datum.value == 1 ? '10⁰' : ''","labelOverlap":false,"gridOpacity":{"condition":{"test":"datum.value == 0.001 || datum.value == 0.01 || datum.value == 0.1 || datum.value == 1","value":1},"value":0}}},
        "y":{"field":"tpr","type":"quantitative","scale":{"domain":[-0.05,1.05],"nice":false,"zero":false},"axis":{"title":["LingBot","RoboTwin"],"values":[0,0.5,1],"format":".1f"}},
        "color":{"field":"curve","type":"nominal","title":null,"scale":{"domain":["clean (.53)","s = 0.5 (.00)","s = 1 (.70)","s = 2 (.71)"],"range":["#000000","#5302a3","#bf3984","#f89540"]}}},
       "layer":[
        {"transform":[{"filter":"indexof(datum.curve, 'clean') != 0"}],"mark":{"type":"line","strokeWidth":2,"clip":true}},
        {"transform":[{"filter":"indexof(datum.curve, 'clean') == 0"}],"mark":{"type":"line","strokeWidth":4,"clip":true}},
        {"transform":[{"filter":"indexof(datum.curve, 'clean') != 0 && datum.fpr == 0.01"}],"mark":{"type":"point","filled":true,"size":30,"opacity":1}},
        {"transform":[{"filter":"indexof(datum.curve, 'clean') == 0 && datum.fpr == 0.01"}],"mark":{"type":"point","filled":true,"size":60,"opacity":1}}
       ]},
      {"data":{"values":[{}]},"layer":[
        {"mark":{"type":"text","fontSize":7.5,"color":"#888888","align":"left","baseline":"middle","text":"|G| = 32"},"encoding":{"x":{"datum":0.00107,"type":"quantitative"},"y":{"datum":0.92,"type":"quantitative"}}},
        {"mark":{"type":"text","fontSize":14,"color":"#555555","baseline":"middle","text":"AUC ≥ 1.000"},"encoding":{"x":{"datum":0.027,"type":"quantitative"},"y":{"datum":0.63,"type":"quantitative"}}},
        {"mark":{"type":"text","fontSize":9.2,"color":"#999999","baseline":"middle","text":"TPR@1% = 1.00"},"encoding":{"x":{"datum":0.0235,"type":"quantitative"},"y":{"datum":0.46,"type":"quantitative"}}}
      ]}
    ]},
    {"width":203,"height":103.5,"layer":[
      {"data":{"values":[{}]},"mark":{"type":"rule","color":"#8c8c8c","strokeWidth":1,"strokeDash":[1.5,1.5]},"encoding":{"x":{"datum":0.01,"type":"quantitative"}}},
      {"data":{"name":"roc"},"transform":[{"filter":"datum.panel == '2-ema'"}],
       "encoding":{
        "x":{"field":"fpr","type":"quantitative","scale":{"type":"log","domain":[0.00082,1.07],"nice":false},"axis":{"title":null,"values":[0.0009,0.001,0.002,0.003,0.004,0.005,0.006,0.007,0.008,0.009,0.01,0.02,0.03,0.04,0.05,0.06,0.07,0.08,0.09,0.1,0.2,0.3,0.4,0.5,0.6,0.7,0.8,0.9,1],"labelExpr":"datum.value == 0.001 ? '10⁻³' : datum.value == 0.01 ? '10⁻²' : datum.value == 0.1 ? '10⁻¹' : datum.value == 1 ? '10⁰' : ''","labelOverlap":false,"gridOpacity":{"condition":{"test":"datum.value == 0.001 || datum.value == 0.01 || datum.value == 0.1 || datum.value == 1","value":1},"value":0}}},
        "y":{"field":"tpr","type":"quantitative","scale":{"domain":[-0.05,1.05],"nice":false,"zero":false},"axis":{"title":null,"values":[0,0.5,1],"format":".1f"}},
        "color":{"field":"curve","type":"nominal","title":null,"scale":{"domain":["clean (.53)","α = 0.3 (.74)","α = 0.5 (.74)","α = 0.7 (.75)"],"range":["#000000","#5302a3","#bf3984","#f89540"]}}},
       "layer":[
        {"transform":[{"filter":"indexof(datum.curve, 'clean') != 0"}],"mark":{"type":"line","strokeWidth":2,"clip":true}},
        {"transform":[{"filter":"indexof(datum.curve, 'clean') == 0"}],"mark":{"type":"line","strokeWidth":4,"clip":true}},
        {"transform":[{"filter":"indexof(datum.curve, 'clean') != 0 && datum.fpr == 0.01"}],"mark":{"type":"point","filled":true,"size":30,"opacity":1}},
        {"transform":[{"filter":"indexof(datum.curve, 'clean') == 0 && datum.fpr == 0.01"}],"mark":{"type":"point","filled":true,"size":60,"opacity":1}}
       ]},
      {"data":{"values":[{}]},"layer":[
        {"mark":{"type":"text","fontSize":7.5,"color":"#888888","align":"left","baseline":"middle","text":"|G| = 32"},"encoding":{"x":{"datum":0.00107,"type":"quantitative"},"y":{"datum":0.92,"type":"quantitative"}}},
        {"mark":{"type":"text","fontSize":14,"color":"#555555","baseline":"middle","text":"AUC ≥ 1.000"},"encoding":{"x":{"datum":0.027,"type":"quantitative"},"y":{"datum":0.63,"type":"quantitative"}}},
        {"mark":{"type":"text","fontSize":9.2,"color":"#999999","baseline":"middle","text":"TPR@1% = 1.00"},"encoding":{"x":{"datum":0.0235,"type":"quantitative"},"y":{"datum":0.46,"type":"quantitative"}}}
      ]}
    ]},
    {"width":203,"height":103.5,"layer":[
      {"data":{"values":[{}]},"mark":{"type":"rule","color":"#8c8c8c","strokeWidth":1,"strokeDash":[1.5,1.5]},"encoding":{"x":{"datum":0.01,"type":"quantitative"}}},
      {"data":{"name":"roc"},"transform":[{"filter":"datum.panel == '2-jitter'"}],
       "encoding":{
        "x":{"field":"fpr","type":"quantitative","scale":{"type":"log","domain":[0.00082,1.07],"nice":false},"axis":{"title":null,"values":[0.0009,0.001,0.002,0.003,0.004,0.005,0.006,0.007,0.008,0.009,0.01,0.02,0.03,0.04,0.05,0.06,0.07,0.08,0.09,0.1,0.2,0.3,0.4,0.5,0.6,0.7,0.8,0.9,1],"labelExpr":"datum.value == 0.001 ? '10⁻³' : datum.value == 0.01 ? '10⁻²' : datum.value == 0.1 ? '10⁻¹' : datum.value == 1 ? '10⁰' : ''","labelOverlap":false,"gridOpacity":{"condition":{"test":"datum.value == 0.001 || datum.value == 0.01 || datum.value == 0.1 || datum.value == 1","value":1},"value":0}}},
        "y":{"field":"tpr","type":"quantitative","scale":{"domain":[-0.05,1.05],"nice":false,"zero":false},"axis":{"title":null,"values":[0,0.5,1],"format":".1f"}},
        "color":{"field":"curve","type":"nominal","title":null,"scale":{"domain":["clean (.53)","σ = 0.005 (.70)","σ = 0.01 (.64)","σ = 0.02 (.36)","σ = 0.05 (.25)"],"range":["#000000","#5302a3","#a01c9a","#d6556d","#f89540"]}}},
       "layer":[
        {"transform":[{"filter":"indexof(datum.curve, 'clean') != 0"}],"mark":{"type":"line","strokeWidth":2,"clip":true}},
        {"transform":[{"filter":"indexof(datum.curve, 'clean') == 0"}],"mark":{"type":"line","strokeWidth":4,"clip":true}},
        {"transform":[{"filter":"indexof(datum.curve, 'clean') != 0 && datum.fpr == 0.01"}],"mark":{"type":"point","filled":true,"size":30,"opacity":1}},
        {"transform":[{"filter":"indexof(datum.curve, 'clean') == 0 && datum.fpr == 0.01"}],"mark":{"type":"point","filled":true,"size":60,"opacity":1}}
       ]},
      {"data":{"values":[{}]},"layer":[
        {"mark":{"type":"text","fontSize":7.5,"color":"#888888","align":"left","baseline":"middle","text":"|G| = 32"},"encoding":{"x":{"datum":0.00107,"type":"quantitative"},"y":{"datum":0.92,"type":"quantitative"}}},
        {"mark":{"type":"text","fontSize":14,"color":"#555555","baseline":"middle","text":"AUC ≥ 1.000"},"encoding":{"x":{"datum":0.027,"type":"quantitative"},"y":{"datum":0.63,"type":"quantitative"}}},
        {"mark":{"type":"text","fontSize":9.2,"color":"#999999","baseline":"middle","text":"TPR@1% = 1.00"},"encoding":{"x":{"datum":0.0235,"type":"quantitative"},"y":{"datum":0.46,"type":"quantitative"}}}
      ]}
    ]},
    {"width":203,"height":103.5,"layer":[
      {"data":{"values":[{}]},"mark":{"type":"rule","color":"#8c8c8c","strokeWidth":1,"strokeDash":[1.5,1.5]},"encoding":{"x":{"datum":0.01,"type":"quantitative"}}},
      {"data":{"name":"roc"},"transform":[{"filter":"datum.panel == '2-delay'"}],
       "encoding":{
        "x":{"field":"fpr","type":"quantitative","scale":{"type":"log","domain":[0.00082,1.07],"nice":false},"axis":{"title":null,"values":[0.0009,0.001,0.002,0.003,0.004,0.005,0.006,0.007,0.008,0.009,0.01,0.02,0.03,0.04,0.05,0.06,0.07,0.08,0.09,0.1,0.2,0.3,0.4,0.5,0.6,0.7,0.8,0.9,1],"labelExpr":"datum.value == 0.001 ? '10⁻³' : datum.value == 0.01 ? '10⁻²' : datum.value == 0.1 ? '10⁻¹' : datum.value == 1 ? '10⁰' : ''","labelOverlap":false,"gridOpacity":{"condition":{"test":"datum.value == 0.001 || datum.value == 0.01 || datum.value == 0.1 || datum.value == 1","value":1},"value":0}}},
        "y":{"field":"tpr","type":"quantitative","scale":{"domain":[-0.05,1.05],"nice":false,"zero":false},"axis":{"title":null,"values":[0,0.5,1],"format":".1f"}},
        "color":{"field":"curve","type":"nominal","title":null,"scale":{"domain":["clean (.53)","τ = 1 (.73)","τ = 2 (.79)","τ = 3 (.73)"],"range":["#000000","#5302a3","#bf3984","#f89540"]}}},
       "layer":[
        {"transform":[{"filter":"indexof(datum.curve, 'clean') != 0"}],"mark":{"type":"line","strokeWidth":2,"clip":true}},
        {"transform":[{"filter":"indexof(datum.curve, 'clean') == 0"}],"mark":{"type":"line","strokeWidth":4,"clip":true}},
        {"transform":[{"filter":"indexof(datum.curve, 'clean') != 0 && datum.fpr == 0.01"}],"mark":{"type":"point","filled":true,"size":30,"opacity":1}},
        {"transform":[{"filter":"indexof(datum.curve, 'clean') == 0 && datum.fpr == 0.01"}],"mark":{"type":"point","filled":true,"size":60,"opacity":1}}
       ]},
      {"data":{"values":[{}]},"layer":[
        {"mark":{"type":"text","fontSize":7.5,"color":"#888888","align":"left","baseline":"middle","text":"|G| = 32"},"encoding":{"x":{"datum":0.00107,"type":"quantitative"},"y":{"datum":0.92,"type":"quantitative"}}},
        {"mark":{"type":"text","fontSize":14,"color":"#555555","baseline":"middle","text":"AUC ≥ 1.000"},"encoding":{"x":{"datum":0.027,"type":"quantitative"},"y":{"datum":0.63,"type":"quantitative"}}},
        {"mark":{"type":"text","fontSize":9.2,"color":"#999999","baseline":"middle","text":"TPR@1% = 1.00"},"encoding":{"x":{"datum":0.0235,"type":"quantitative"},"y":{"datum":0.46,"type":"quantitative"}}}
      ]}
    ]},

    {"width":203,"height":103.5,"layer":[
      {"data":{"values":[{}]},"mark":{"type":"rule","color":"#8c8c8c","strokeWidth":1,"strokeDash":[1.5,1.5]},"encoding":{"x":{"datum":0.01,"type":"quantitative"}}},
      {"data":{"name":"roc"},"transform":[{"filter":"datum.panel == '3-clip'"}],
       "encoding":{
        "x":{"field":"fpr","type":"quantitative","scale":{"type":"log","domain":[0.00082,1.07],"nice":false},"axis":{"title":null,"values":[0.0009,0.001,0.002,0.003,0.004,0.005,0.006,0.007,0.008,0.009,0.01,0.02,0.03,0.04,0.05,0.06,0.07,0.08,0.09,0.1,0.2,0.3,0.4,0.5,0.6,0.7,0.8,0.9,1],"labelExpr":"datum.value == 0.001 ? '10⁻³' : datum.value == 0.01 ? '10⁻²' : datum.value == 0.1 ? '10⁻¹' : datum.value == 1 ? '10⁰' : ''","labelOverlap":false,"gridOpacity":{"condition":{"test":"datum.value == 0.001 || datum.value == 0.01 || datum.value == 0.1 || datum.value == 1","value":1},"value":0}}},
        "y":{"field":"tpr","type":"quantitative","scale":{"domain":[-0.05,1.05],"nice":false,"zero":false},"axis":{"title":["π₀.₅","LIBERO-10"],"values":[0,0.5,1],"format":".1f"}},
        "color":{"field":"curve","type":"nominal","title":null,"scale":{"domain":["clean (.96)","s = 0.5 (.88)","s = 1 (.94)","s = 2 (.90)"],"range":["#000000","#5302a3","#bf3984","#f89540"]}}},
       "layer":[
        {"transform":[{"filter":"indexof(datum.curve, 'clean') != 0"}],"mark":{"type":"line","strokeWidth":2,"clip":true}},
        {"transform":[{"filter":"indexof(datum.curve, 'clean') == 0"}],"mark":{"type":"line","strokeWidth":4,"clip":true}},
        {"transform":[{"filter":"indexof(datum.curve, 'clean') != 0 && datum.fpr == 0.01"}],"mark":{"type":"point","filled":true,"size":30,"opacity":1}},
        {"transform":[{"filter":"indexof(datum.curve, 'clean') == 0 && datum.fpr == 0.01"}],"mark":{"type":"point","filled":true,"size":60,"opacity":1}}
       ]},
      {"data":{"values":[{}]},"layer":[
        {"mark":{"type":"text","fontSize":7.5,"color":"#888888","align":"left","baseline":"middle","text":"|G| = 32"},"encoding":{"x":{"datum":0.00107,"type":"quantitative"},"y":{"datum":0.92,"type":"quantitative"}}},
        {"mark":{"type":"text","fontSize":14,"color":"#555555","baseline":"middle","text":"AUC ≥ 1.000"},"encoding":{"x":{"datum":0.027,"type":"quantitative"},"y":{"datum":0.63,"type":"quantitative"}}},
        {"mark":{"type":"text","fontSize":9.2,"color":"#999999","baseline":"middle","text":"TPR@1% = 1.00"},"encoding":{"x":{"datum":0.0235,"type":"quantitative"},"y":{"datum":0.46,"type":"quantitative"}}}
      ]}
    ]},
    {"width":203,"height":103.5,"layer":[
      {"data":{"values":[{}]},"mark":{"type":"rule","color":"#8c8c8c","strokeWidth":1,"strokeDash":[1.5,1.5]},"encoding":{"x":{"datum":0.01,"type":"quantitative"}}},
      {"data":{"name":"roc"},"transform":[{"filter":"datum.panel == '3-ema'"}],
       "encoding":{
        "x":{"field":"fpr","type":"quantitative","scale":{"type":"log","domain":[0.00082,1.07],"nice":false},"axis":{"title":null,"values":[0.0009,0.001,0.002,0.003,0.004,0.005,0.006,0.007,0.008,0.009,0.01,0.02,0.03,0.04,0.05,0.06,0.07,0.08,0.09,0.1,0.2,0.3,0.4,0.5,0.6,0.7,0.8,0.9,1],"labelExpr":"datum.value == 0.001 ? '10⁻³' : datum.value == 0.01 ? '10⁻²' : datum.value == 0.1 ? '10⁻¹' : datum.value == 1 ? '10⁰' : ''","labelOverlap":false,"gridOpacity":{"condition":{"test":"datum.value == 0.001 || datum.value == 0.01 || datum.value == 0.1 || datum.value == 1","value":1},"value":0}}},
        "y":{"field":"tpr","type":"quantitative","scale":{"domain":[-0.05,1.05],"nice":false,"zero":false},"axis":{"title":null,"values":[0,0.5,1],"format":".1f"}},
        "color":{"field":"curve","type":"nominal","title":null,"scale":{"domain":["clean (.96)","α = 0.3 (.92)","α = 0.5 (.96)","α = 0.7 (.98)"],"range":["#000000","#5302a3","#bf3984","#f89540"]}}},
       "layer":[
        {"transform":[{"filter":"indexof(datum.curve, 'clean') != 0"}],"mark":{"type":"line","strokeWidth":2,"clip":true}},
        {"transform":[{"filter":"indexof(datum.curve, 'clean') == 0"}],"mark":{"type":"line","strokeWidth":4,"clip":true}},
        {"transform":[{"filter":"indexof(datum.curve, 'clean') != 0 && datum.fpr == 0.01"}],"mark":{"type":"point","filled":true,"size":30,"opacity":1}},
        {"transform":[{"filter":"indexof(datum.curve, 'clean') == 0 && datum.fpr == 0.01"}],"mark":{"type":"point","filled":true,"size":60,"opacity":1}}
       ]},
      {"data":{"values":[{}]},"layer":[
        {"mark":{"type":"text","fontSize":7.5,"color":"#888888","align":"left","baseline":"middle","text":"|G| = 32"},"encoding":{"x":{"datum":0.00107,"type":"quantitative"},"y":{"datum":0.92,"type":"quantitative"}}},
        {"mark":{"type":"text","fontSize":14,"color":"#555555","baseline":"middle","text":"AUC ≥ 0.998"},"encoding":{"x":{"datum":0.027,"type":"quantitative"},"y":{"datum":0.63,"type":"quantitative"}}},
        {"mark":{"type":"text","fontSize":9.2,"color":"#999999","baseline":"middle","text":"TPR@1% = 1.00"},"encoding":{"x":{"datum":0.0235,"type":"quantitative"},"y":{"datum":0.46,"type":"quantitative"}}}
      ]}
    ]},
    {"width":203,"height":103.5,"layer":[
      {"data":{"values":[{}]},"mark":{"type":"rule","color":"#8c8c8c","strokeWidth":1,"strokeDash":[1.5,1.5]},"encoding":{"x":{"datum":0.01,"type":"quantitative"}}},
      {"data":{"name":"roc"},"transform":[{"filter":"datum.panel == '3-jitter'"}],
       "encoding":{
        "x":{"field":"fpr","type":"quantitative","scale":{"type":"log","domain":[0.00082,1.07],"nice":false},"axis":{"title":null,"values":[0.0009,0.001,0.002,0.003,0.004,0.005,0.006,0.007,0.008,0.009,0.01,0.02,0.03,0.04,0.05,0.06,0.07,0.08,0.09,0.1,0.2,0.3,0.4,0.5,0.6,0.7,0.8,0.9,1],"labelExpr":"datum.value == 0.001 ? '10⁻³' : datum.value == 0.01 ? '10⁻²' : datum.value == 0.1 ? '10⁻¹' : datum.value == 1 ? '10⁰' : ''","labelOverlap":false,"gridOpacity":{"condition":{"test":"datum.value == 0.001 || datum.value == 0.01 || datum.value == 0.1 || datum.value == 1","value":1},"value":0}}},
        "y":{"field":"tpr","type":"quantitative","scale":{"domain":[-0.05,1.05],"nice":false,"zero":false},"axis":{"title":null,"values":[0,0.5,1],"format":".1f"}},
        "color":{"field":"curve","type":"nominal","title":null,"scale":{"domain":["clean (.96)","σ = 0.005 (.94)","σ = 0.01 (.96)","σ = 0.02 (.98)","σ = 0.05 (.96)"],"range":["#000000","#5302a3","#a01c9a","#d6556d","#f89540"]}}},
       "layer":[
        {"transform":[{"filter":"indexof(datum.curve, 'clean') != 0"}],"mark":{"type":"line","strokeWidth":2,"clip":true}},
        {"transform":[{"filter":"indexof(datum.curve, 'clean') == 0"}],"mark":{"type":"line","strokeWidth":4,"clip":true}},
        {"transform":[{"filter":"indexof(datum.curve, 'clean') != 0 && datum.fpr == 0.01"}],"mark":{"type":"point","filled":true,"size":30,"opacity":1}},
        {"transform":[{"filter":"indexof(datum.curve, 'clean') == 0 && datum.fpr == 0.01"}],"mark":{"type":"point","filled":true,"size":60,"opacity":1}}
       ]},
      {"data":{"values":[{}]},"layer":[
        {"mark":{"type":"text","fontSize":7.5,"color":"#888888","align":"left","baseline":"middle","text":"|G| = 32"},"encoding":{"x":{"datum":0.00107,"type":"quantitative"},"y":{"datum":0.92,"type":"quantitative"}}},
        {"mark":{"type":"text","fontSize":14,"color":"#555555","baseline":"middle","text":"AUC ≥ 1.000"},"encoding":{"x":{"datum":0.027,"type":"quantitative"},"y":{"datum":0.63,"type":"quantitative"}}},
        {"mark":{"type":"text","fontSize":9.2,"color":"#999999","baseline":"middle","text":"TPR@1% = 1.00"},"encoding":{"x":{"datum":0.0235,"type":"quantitative"},"y":{"datum":0.46,"type":"quantitative"}}}
      ]}
    ]},
    {"width":203,"height":103.5,"layer":[
      {"data":{"values":[{}]},"mark":{"type":"rule","color":"#8c8c8c","strokeWidth":1,"strokeDash":[1.5,1.5]},"encoding":{"x":{"datum":0.01,"type":"quantitative"}}},
      {"data":{"name":"roc"},"transform":[{"filter":"datum.panel == '3-delay'"}],
       "encoding":{
        "x":{"field":"fpr","type":"quantitative","scale":{"type":"log","domain":[0.00082,1.07],"nice":false},"axis":{"title":null,"values":[0.0009,0.001,0.002,0.003,0.004,0.005,0.006,0.007,0.008,0.009,0.01,0.02,0.03,0.04,0.05,0.06,0.07,0.08,0.09,0.1,0.2,0.3,0.4,0.5,0.6,0.7,0.8,0.9,1],"labelExpr":"datum.value == 0.001 ? '10⁻³' : datum.value == 0.01 ? '10⁻²' : datum.value == 0.1 ? '10⁻¹' : datum.value == 1 ? '10⁰' : ''","labelOverlap":false,"gridOpacity":{"condition":{"test":"datum.value == 0.001 || datum.value == 0.01 || datum.value == 0.1 || datum.value == 1","value":1},"value":0}}},
        "y":{"field":"tpr","type":"quantitative","scale":{"domain":[-0.05,1.05],"nice":false,"zero":false},"axis":{"title":null,"values":[0,0.5,1],"format":".1f"}},
        "color":{"field":"curve","type":"nominal","title":null,"scale":{"domain":["clean (.96)","τ = 1 (.95)","τ = 2 (.96)","τ = 3 (.97)"],"range":["#000000","#5302a3","#bf3984","#f89540"]}}},
       "layer":[
        {"transform":[{"filter":"indexof(datum.curve, 'clean') != 0"}],"mark":{"type":"line","strokeWidth":2,"clip":true}},
        {"transform":[{"filter":"indexof(datum.curve, 'clean') == 0"}],"mark":{"type":"line","strokeWidth":4,"clip":true}},
        {"transform":[{"filter":"indexof(datum.curve, 'clean') != 0 && datum.fpr == 0.01"}],"mark":{"type":"point","filled":true,"size":30,"opacity":1}},
        {"transform":[{"filter":"indexof(datum.curve, 'clean') == 0 && datum.fpr == 0.01"}],"mark":{"type":"point","filled":true,"size":60,"opacity":1}}
       ]},
      {"data":{"values":[{}]},"layer":[
        {"mark":{"type":"text","fontSize":7.5,"color":"#888888","align":"left","baseline":"middle","text":"|G| = 32"},"encoding":{"x":{"datum":0.00107,"type":"quantitative"},"y":{"datum":0.92,"type":"quantitative"}}},
        {"mark":{"type":"text","fontSize":14,"color":"#555555","baseline":"middle","text":"AUC ≥ 0.995"},"encoding":{"x":{"datum":0.027,"type":"quantitative"},"y":{"datum":0.63,"type":"quantitative"}}},
        {"mark":{"type":"text","fontSize":9.2,"color":"#999999","baseline":"middle","text":"TPR@1% = 1.00"},"encoding":{"x":{"datum":0.0235,"type":"quantitative"},"y":{"datum":0.46,"type":"quantitative"}}}
      ]}
    ]},

    {"width":203,"height":103.5,"layer":[
      {"data":{"values":[{}]},"mark":{"type":"rule","color":"#8c8c8c","strokeWidth":1,"strokeDash":[1.5,1.5]},"encoding":{"x":{"datum":0.01,"type":"quantitative"}}},
      {"data":{"name":"roc"},"transform":[{"filter":"datum.panel == '4-clip'"}],
       "encoding":{
        "x":{"field":"fpr","type":"quantitative","scale":{"type":"log","domain":[0.00082,1.07],"nice":false},"axis":{"title":"false-positive rate","values":[0.0009,0.001,0.002,0.003,0.004,0.005,0.006,0.007,0.008,0.009,0.01,0.02,0.03,0.04,0.05,0.06,0.07,0.08,0.09,0.1,0.2,0.3,0.4,0.5,0.6,0.7,0.8,0.9,1],"labelExpr":"datum.value == 0.001 ? '10⁻³' : datum.value == 0.01 ? '10⁻²' : datum.value == 0.1 ? '10⁻¹' : datum.value == 1 ? '10⁰' : ''","labelOverlap":false,"gridOpacity":{"condition":{"test":"datum.value == 0.001 || datum.value == 0.01 || datum.value == 0.1 || datum.value == 1","value":1},"value":0}}},
        "y":{"field":"tpr","type":"quantitative","scale":{"domain":[-0.05,1.05],"nice":false,"zero":false},"axis":{"title":["π₀.₅","RoboTwin"],"values":[0,0.5,1],"format":".1f"}},
        "color":{"field":"curve","type":"nominal","title":null,"scale":{"domain":["clean (.57)","s = 0.5 (.00)","s = 1 (.00)","s = 2 (.17)"],"range":["#000000","#5302a3","#bf3984","#f89540"]}}},
       "layer":[
        {"transform":[{"filter":"indexof(datum.curve, 'clean') != 0"}],"mark":{"type":"line","strokeWidth":2,"clip":true}},
        {"transform":[{"filter":"indexof(datum.curve, 'clean') == 0"}],"mark":{"type":"line","strokeWidth":4,"clip":true}},
        {"transform":[{"filter":"indexof(datum.curve, 'clean') != 0 && datum.fpr == 0.01"}],"mark":{"type":"point","filled":true,"size":30,"opacity":1}},
        {"transform":[{"filter":"indexof(datum.curve, 'clean') == 0 && datum.fpr == 0.01"}],"mark":{"type":"point","filled":true,"size":60,"opacity":1}}
       ]},
      {"data":{"values":[{}]},"layer":[
        {"mark":{"type":"text","fontSize":7.5,"color":"#888888","align":"left","baseline":"middle","text":"|G| = 32"},"encoding":{"x":{"datum":0.00107,"type":"quantitative"},"y":{"datum":0.92,"type":"quantitative"}}},
        {"mark":{"type":"text","fontSize":14,"color":"#555555","baseline":"middle","text":"AUC ≥ 1.000"},"encoding":{"x":{"datum":0.027,"type":"quantitative"},"y":{"datum":0.63,"type":"quantitative"}}},
        {"mark":{"type":"text","fontSize":9.2,"color":"#999999","baseline":"middle","text":"TPR@1% = 1.00"},"encoding":{"x":{"datum":0.0235,"type":"quantitative"},"y":{"datum":0.46,"type":"quantitative"}}}
      ]}
    ]},
    {"width":203,"height":103.5,"layer":[
      {"data":{"values":[{}]},"mark":{"type":"rule","color":"#8c8c8c","strokeWidth":1,"strokeDash":[1.5,1.5]},"encoding":{"x":{"datum":0.01,"type":"quantitative"}}},
      {"data":{"name":"roc"},"transform":[{"filter":"datum.panel == '4-ema'"}],
       "encoding":{
        "x":{"field":"fpr","type":"quantitative","scale":{"type":"log","domain":[0.00082,1.07],"nice":false},"axis":{"title":"false-positive rate","values":[0.0009,0.001,0.002,0.003,0.004,0.005,0.006,0.007,0.008,0.009,0.01,0.02,0.03,0.04,0.05,0.06,0.07,0.08,0.09,0.1,0.2,0.3,0.4,0.5,0.6,0.7,0.8,0.9,1],"labelExpr":"datum.value == 0.001 ? '10⁻³' : datum.value == 0.01 ? '10⁻²' : datum.value == 0.1 ? '10⁻¹' : datum.value == 1 ? '10⁰' : ''","labelOverlap":false,"gridOpacity":{"condition":{"test":"datum.value == 0.001 || datum.value == 0.01 || datum.value == 0.1 || datum.value == 1","value":1},"value":0}}},
        "y":{"field":"tpr","type":"quantitative","scale":{"domain":[-0.05,1.05],"nice":false,"zero":false},"axis":{"title":null,"values":[0,0.5,1],"format":".1f"}},
        "color":{"field":"curve","type":"nominal","title":null,"scale":{"domain":["clean (.57)","α = 0.3 (.50)","α = 0.5 (.57)","α = 0.7 (.44)"],"range":["#000000","#5302a3","#bf3984","#f89540"]}}},
       "layer":[
        {"transform":[{"filter":"indexof(datum.curve, 'clean') != 0"}],"mark":{"type":"line","strokeWidth":2,"clip":true}},
        {"transform":[{"filter":"indexof(datum.curve, 'clean') == 0"}],"mark":{"type":"line","strokeWidth":4,"clip":true}},
        {"transform":[{"filter":"indexof(datum.curve, 'clean') != 0 && datum.fpr == 0.01"}],"mark":{"type":"point","filled":true,"size":30,"opacity":1}},
        {"transform":[{"filter":"indexof(datum.curve, 'clean') == 0 && datum.fpr == 0.01"}],"mark":{"type":"point","filled":true,"size":60,"opacity":1}}
       ]},
      {"data":{"values":[{}]},"layer":[
        {"mark":{"type":"text","fontSize":7.5,"color":"#888888","align":"left","baseline":"middle","text":"|G| = 32"},"encoding":{"x":{"datum":0.00107,"type":"quantitative"},"y":{"datum":0.92,"type":"quantitative"}}},
        {"mark":{"type":"text","fontSize":14,"color":"#555555","baseline":"middle","text":"AUC ≥ 1.000"},"encoding":{"x":{"datum":0.027,"type":"quantitative"},"y":{"datum":0.63,"type":"quantitative"}}},
        {"mark":{"type":"text","fontSize":9.2,"color":"#999999","baseline":"middle","text":"TPR@1% = 1.00"},"encoding":{"x":{"datum":0.0235,"type":"quantitative"},"y":{"datum":0.46,"type":"quantitative"}}}
      ]}
    ]},
    {"width":203,"height":103.5,"layer":[
      {"data":{"values":[{}]},"mark":{"type":"rule","color":"#8c8c8c","strokeWidth":1,"strokeDash":[1.5,1.5]},"encoding":{"x":{"datum":0.01,"type":"quantitative"}}},
      {"data":{"name":"roc"},"transform":[{"filter":"datum.panel == '4-jitter'"}],
       "encoding":{
        "x":{"field":"fpr","type":"quantitative","scale":{"type":"log","domain":[0.00082,1.07],"nice":false},"axis":{"title":"false-positive rate","values":[0.0009,0.001,0.002,0.003,0.004,0.005,0.006,0.007,0.008,0.009,0.01,0.02,0.03,0.04,0.05,0.06,0.07,0.08,0.09,0.1,0.2,0.3,0.4,0.5,0.6,0.7,0.8,0.9,1],"labelExpr":"datum.value == 0.001 ? '10⁻³' : datum.value == 0.01 ? '10⁻²' : datum.value == 0.1 ? '10⁻¹' : datum.value == 1 ? '10⁰' : ''","labelOverlap":false,"gridOpacity":{"condition":{"test":"datum.value == 0.001 || datum.value == 0.01 || datum.value == 0.1 || datum.value == 1","value":1},"value":0}}},
        "y":{"field":"tpr","type":"quantitative","scale":{"domain":[-0.05,1.05],"nice":false,"zero":false},"axis":{"title":null,"values":[0,0.5,1],"format":".1f"}},
        "color":{"field":"curve","type":"nominal","title":null,"scale":{"domain":["clean (.57)","σ = 0.005 (.52)","σ = 0.01 (.44)","σ = 0.02 (.39)","σ = 0.05 (.37)"],"range":["#000000","#5302a3","#a01c9a","#d6556d","#f89540"]}}},
       "layer":[
        {"transform":[{"filter":"indexof(datum.curve, 'clean') != 0"}],"mark":{"type":"line","strokeWidth":2,"clip":true}},
        {"transform":[{"filter":"indexof(datum.curve, 'clean') == 0"}],"mark":{"type":"line","strokeWidth":4,"clip":true}},
        {"transform":[{"filter":"indexof(datum.curve, 'clean') != 0 && datum.fpr == 0.01"}],"mark":{"type":"point","filled":true,"size":30,"opacity":1}},
        {"transform":[{"filter":"indexof(datum.curve, 'clean') == 0 && datum.fpr == 0.01"}],"mark":{"type":"point","filled":true,"size":60,"opacity":1}}
       ]},
      {"data":{"values":[{}]},"layer":[
        {"mark":{"type":"text","fontSize":7.5,"color":"#888888","align":"left","baseline":"middle","text":"|G| = 32"},"encoding":{"x":{"datum":0.00107,"type":"quantitative"},"y":{"datum":0.92,"type":"quantitative"}}},
        {"mark":{"type":"text","fontSize":14,"color":"#555555","baseline":"middle","text":"AUC ≥ 1.000"},"encoding":{"x":{"datum":0.027,"type":"quantitative"},"y":{"datum":0.63,"type":"quantitative"}}},
        {"mark":{"type":"text","fontSize":9.2,"color":"#999999","baseline":"middle","text":"TPR@1% = 1.00"},"encoding":{"x":{"datum":0.0235,"type":"quantitative"},"y":{"datum":0.46,"type":"quantitative"}}}
      ]}
    ]},
    {"width":203,"height":103.5,"layer":[
      {"data":{"values":[{}]},"mark":{"type":"rule","color":"#8c8c8c","strokeWidth":1,"strokeDash":[1.5,1.5]},"encoding":{"x":{"datum":0.01,"type":"quantitative"}}},
      {"data":{"name":"roc"},"transform":[{"filter":"datum.panel == '4-delay'"}],
       "encoding":{
        "x":{"field":"fpr","type":"quantitative","scale":{"type":"log","domain":[0.00082,1.07],"nice":false},"axis":{"title":"false-positive rate","values":[0.0009,0.001,0.002,0.003,0.004,0.005,0.006,0.007,0.008,0.009,0.01,0.02,0.03,0.04,0.05,0.06,0.07,0.08,0.09,0.1,0.2,0.3,0.4,0.5,0.6,0.7,0.8,0.9,1],"labelExpr":"datum.value == 0.001 ? '10⁻³' : datum.value == 0.01 ? '10⁻²' : datum.value == 0.1 ? '10⁻¹' : datum.value == 1 ? '10⁰' : ''","labelOverlap":false,"gridOpacity":{"condition":{"test":"datum.value == 0.001 || datum.value == 0.01 || datum.value == 0.1 || datum.value == 1","value":1},"value":0}}},
        "y":{"field":"tpr","type":"quantitative","scale":{"domain":[-0.05,1.05],"nice":false,"zero":false},"axis":{"title":null,"values":[0,0.5,1],"format":".1f"}},
        "color":{"field":"curve","type":"nominal","title":null,"scale":{"domain":["clean (.57)","τ = 1 (.70)","τ = 2 (.70)","τ = 3 (.73)"],"range":["#000000","#5302a3","#bf3984","#f89540"]}}},
       "layer":[
        {"transform":[{"filter":"indexof(datum.curve, 'clean') != 0"}],"mark":{"type":"line","strokeWidth":2,"clip":true}},
        {"transform":[{"filter":"indexof(datum.curve, 'clean') == 0"}],"mark":{"type":"line","strokeWidth":4,"clip":true}},
        {"transform":[{"filter":"indexof(datum.curve, 'clean') != 0 && datum.fpr == 0.01"}],"mark":{"type":"point","filled":true,"size":30,"opacity":1}},
        {"transform":[{"filter":"indexof(datum.curve, 'clean') == 0 && datum.fpr == 0.01"}],"mark":{"type":"point","filled":true,"size":60,"opacity":1}}
       ]},
      {"data":{"values":[{}]},"layer":[
        {"mark":{"type":"text","fontSize":7.5,"color":"#888888","align":"left","baseline":"middle","text":"|G| = 32"},"encoding":{"x":{"datum":0.00107,"type":"quantitative"},"y":{"datum":0.92,"type":"quantitative"}}},
        {"mark":{"type":"text","fontSize":14,"color":"#555555","baseline":"middle","text":"AUC ≥ 1.000"},"encoding":{"x":{"datum":0.027,"type":"quantitative"},"y":{"datum":0.63,"type":"quantitative"}}},
        {"mark":{"type":"text","fontSize":9.2,"color":"#999999","baseline":"middle","text":"TPR@1% = 1.00"},"encoding":{"x":{"datum":0.0235,"type":"quantitative"},"y":{"datum":0.46,"type":"quantitative"}}}
      ]}
    ]}
  ],
  "resolve": {"scale": {"color": "independent", "x": "independent", "y": "independent"}, "legend": {"color": "independent"}},
  "config": {
    "font": "DejaVu Sans",
    "view": {"stroke": "#3a3a3a", "strokeWidth": 1.5},
    "axis": {"domain": false, "grid": true, "gridColor": "#e4e4e4", "gridWidth": 0.8, "labelFontSize": 9.5, "labelColor": "#1a1a1a", "tickColor": "#333333", "tickWidth": 1, "labelPadding": 2, "tickSize": 3.5, "titleFontWeight": "normal", "titleColor": "#1a1a1a", "titleFontSize": 11},
    "axisX": {"titlePadding": 3, "tickSize": 2.5},
    "axisY": {"titleFontSize": 11.5, "titleFontWeight": "bold", "titleColor": "#000000", "titleLineHeight": 14, "titlePadding": 4},
    "legend": {"orient": "bottom-right", "offset": 3, "labelFontSize": 7.5, "labelColor": "#111111", "symbolType": "stroke", "symbolSize": 90, "rowPadding": 0, "padding": 2, "fillColor": "rgba(255,255,255,0.8)", "labelOffset": 2, "symbolStrokeWidth": 2.5},
    "title": {"fontSize": 15, "fontWeight": "bold", "color": "#000000", "offset": 4}
  }
}
